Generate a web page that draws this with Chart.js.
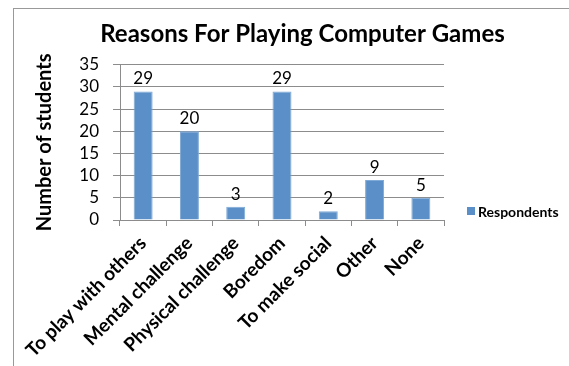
<!DOCTYPE html>
<html>
<head>
<meta charset="utf-8">
<script src="https://cdn.jsdelivr.net/npm/chart.js@4"></script>
<style>
  body { margin: 0; background: #fff; }
  #wrap { position: relative; width: 569px; height: 366px; overflow: hidden; }
  #frame { position: absolute; left: 13px; top: 8px; width: 560px; height: 360px; border: 1px solid #999; }
  canvas { position: absolute; left: 0; top: 0; }
</style>
</head>
<body>
<div id="wrap">
  <div id="frame"></div>
  <canvas id="gamesChart" width="569" height="366"></canvas>
</div>
<script>
// Reasons for playing computer games - survey
const categories = ['To play with others', 'Mental challenge', 'Physical challenge', 'Boredom', 'To make social', 'Other', 'None'];
const respondents = [29, 20, 3, 29, 2, 9, 5];
const yTicks = [0, 5, 10, 15, 20, 25, 30, 35];

const FONT = 'Lato, "Open Sans", sans-serif';

// value labels above bars
const valueLabels = {
    id: 'valueLabels',
    afterDatasetsDraw(chart) {
        const ctx = chart.ctx;
        const meta = chart.getDatasetMeta(0);
        ctx.save();
        ctx.font = '17px ' + FONT;
        ctx.fillStyle = '#000';
        ctx.textAlign = 'center';
        ctx.textBaseline = 'bottom';
        meta.data.forEach((bar, i) => {
            ctx.fillText(String(respondents[i]), bar.x, bar.y - 4);
        });
        ctx.restore();
    }
};

// legend like Excel: small square + bold text, right of plot, lower half
const sideLegend = {
    id: 'sideLegend',
    afterDraw(chart) {
        const ctx = chart.ctx;
        const ds = chart.data.datasets[0];
        const x = chart.chartArea.right + 23;
        const y = 211;
        ctx.save();
        ctx.fillStyle = ds.backgroundColor;
        ctx.fillRect(x, y - 4, 8, 8);
        ctx.font = 'bold 14px ' + FONT;
        ctx.fillStyle = '#000';
        ctx.textAlign = 'left';
        ctx.textBaseline = 'middle';
        ctx.fillText(ds.label, x + 11, y + 1);
        ctx.restore();
    }
};

const ctx = document.getElementById('gamesChart');
new Chart(ctx, {
    type: 'bar',
    data: {
        labels: categories,
        datasets: [{
            label: 'Respondents',
            data: respondents,
            backgroundColor: '#5b8fc7',
            borderColor: '#7fa9d6',
            borderWidth: 1,
            barPercentage: 0.41,
            categoryPercentage: 1
        }]
    },
    options: {
        responsive: false,
        animation: false,
        layout: { padding: { top: 20, left: 36, right: 0, bottom: 0 } },
        scales: {
            x: {
                offset: true,
                grid: { offset: true, drawOnChartArea: false, drawTicks: true, tickLength: 6, color: '#8c8c8c' },
                border: { color: '#8c8c8c' },
                ticks: {
                    color: '#000',
                    font: { family: FONT, size: 19, weight: 'bold' },
                    minRotation: 45, maxRotation: 45,
                    autoSkip: false,
                    padding: 6
                },
                afterFit(scale) { scale.height = 146; }
            },
            y: {
                min: 0, max: 35,
                afterBuildTicks(scale) { scale.ticks = yTicks.map(v => ({ value: v })); },
                grid: { color: '#8c8c8c', tickLength: 7 },
                border: { color: '#8c8c8c' },
                ticks: { color: '#000', font: { family: FONT, size: 17 }, padding: 14, autoSkip: false },
                title: {
                    display: true,
                    text: 'Number of students',
                    color: '#000',
                    font: { family: FONT, size: 20, weight: 'bold' },
                    padding: { top: -3, bottom: 0 }
                },
                afterFit(scale) { scale.width = 84; }
            },
            // empty right-hand space where Excel puts the legend
            side: {
                type: 'linear',
                position: 'right',
                min: 0, max: 1,
                grid: { display: false },
                border: { display: false },
                ticks: { display: false },
                afterFit(scale) { scale.width = 125; }
            }
        },
        plugins: {
            title: {
                display: true,
                text: 'Reasons For Playing Computer Games',
                color: '#000',
                font: { family: FONT, size: 24, weight: 'bold' },
                padding: { top: 0, bottom: 16 }
            },
            legend: { display: false },
            tooltip: { enabled: false }
        }
    },
    plugins: [valueLabels, sideLegend]
});
</script>
</body>
</html>
